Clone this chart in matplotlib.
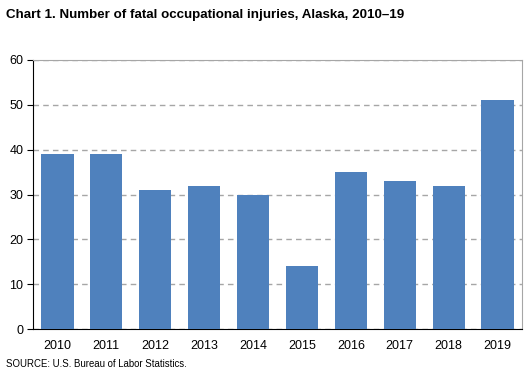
import matplotlib
matplotlib.use("Agg")
import matplotlib.pyplot as plt

years = ["2010", "2011", "2012", "2013", "2014", "2015", "2016", "2017", "2018", "2019"]
fatalities = [39, 39, 31, 32, 30, 14, 35, 33, 32, 51]
yticks = [0, 10, 20, 30, 40, 50, 60]

plt.rcParams['font.family'] = ['Liberation Sans', 'DejaVu Sans']

W, H = 529, 372
fig = plt.figure(figsize=(W/100, H/100), dpi=100)
ax = fig.add_axes([33/W, 1-329/H, (522-33)/W, (329-60)/H])

x = range(len(years))
ax.bar(x, fatalities, width=0.66, color="#4F81BD", zorder=3)
ax.set_xlim(-0.5, len(years)-0.5)
ax.set_ylim(0, 60)
ax.set_yticks(yticks)
ax.set_xticks(list(x))
ax.set_xticklabels(years)
ax.tick_params(axis='both', labelsize=9, colors='black')
ax.tick_params(axis='x', length=0, pad=8)
ax.tick_params(axis='y', length=4, direction='out', pad=3)
ax.yaxis.grid(True, color='#A6A6A6', linestyle=(0, (4, 3)), linewidth=1, zorder=0)
for s in ['top', 'right']:
    ax.spines[s].set_color('#A6A6A6')
for s in ['left', 'bottom']:
    ax.spines[s].set_color('black')

fig.text(6/W, 1-15/H, "Chart 1. Number of fatal occupational injuries, Alaska, 2010\u201319",
         fontsize=9.6, fontweight='bold', va='center', ha='left')
fig.text(6/W, 1-364/H, "SOURCE: U.S. Bureau of Labor Statistics.", fontsize=6.9, va='center', ha='left')

fig.savefig("out.png", dpi=100)
